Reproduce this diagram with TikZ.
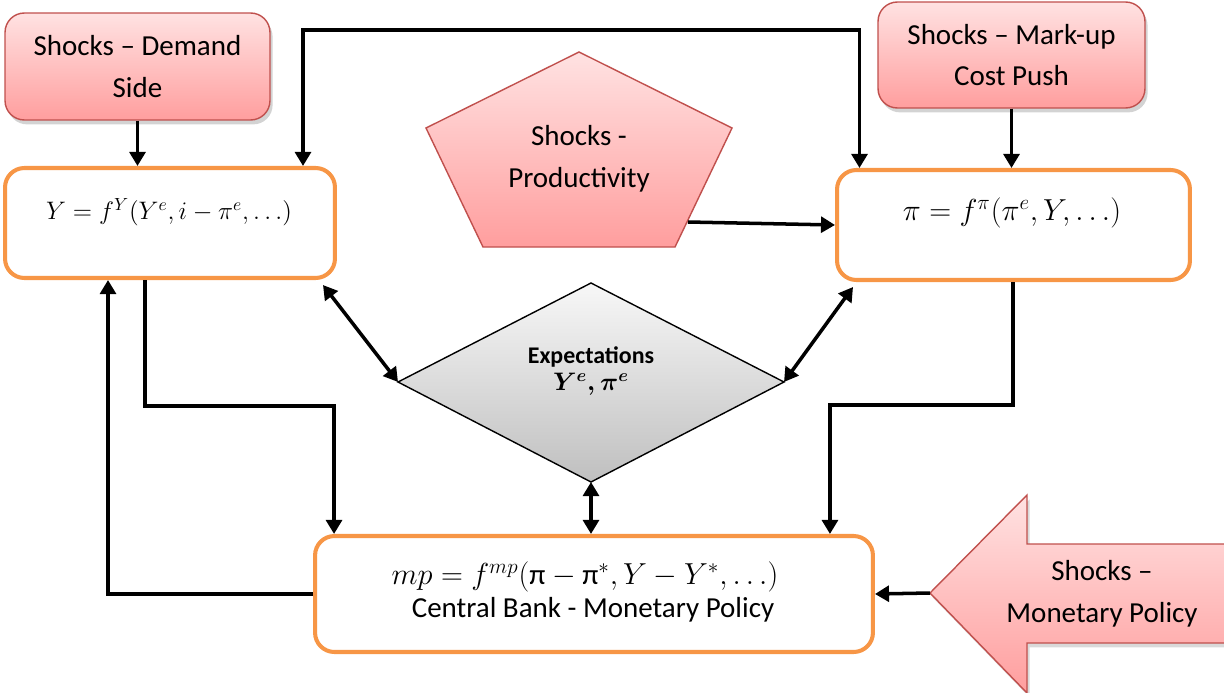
\documentclass[tikz,border=0pt]{standalone}
\usepackage{fontspec}
\setmainfont{Carlito}
\usepackage{amsmath}
\usetikzlibrary{arrows.meta,shadows,calc}
\definecolor{shockborder}{HTML}{C0504D}
\definecolor{shocktop}{HTML}{FFE2E2}
\definecolor{shockbot}{HTML}{FF9E9E}
\definecolor{orangeb}{HTML}{F79646}
\tikzset{
  shockfill/.style={draw=shockborder, line width=0.8pt, top color=shocktop, bottom color=shockbot},
  shockbox/.style={shockfill, rounded corners=11pt, align=center,
    drop shadow={shadow xshift=1.5pt, shadow yshift=-2.5pt, opacity=0.35, fill=black!50},
    font=\fontsize{16.5}{23.8}\selectfont},
  shocktext/.style={align=center, font=\fontsize{16.5}{23.8}\selectfont},
  eqbox/.style={draw=orangeb, line width=2.3pt, rounded corners=11pt, fill=white},
  conn/.style={line width=2pt, -{Triangle[length=8pt,width=9pt]}},
  dconn/.style={line width=2pt, {Triangle[length=8pt,width=9pt]}-{Triangle[length=8pt,width=9pt]}},
}
\begin{document}
\begin{tikzpicture}[x=0.02cm,y=-0.02cm]
\useasboundingbox (0,0) rectangle (1224,693);

% shock boxes
\node[shockbox, minimum width=5.3cm, minimum height=2.14cm] (dem) at (137.5,66.5)
  {Shocks -- Demand\\Side};
\node[shockbox, minimum width=5.34cm, minimum height=2.12cm] (mark) at (1011.5,55)
  {Shocks -- Mark-up\\Cost Push};

% pentagon
\coordinate (ptop) at (579,52);
\coordinate (pright) at (732,128);
\coordinate (pbr) at (675,247);
\coordinate (pbl) at (483,247);
\coordinate (pleft) at (426,128);
\coordinate (pstart) at (688,222);
\path[shockfill] (ptop) -- (pright) -- (pbr) -- (pbl) -- (pleft) -- cycle;
\node[shocktext] (prod) at (579,159) {Shocks -\\Productivity};

% equation boxes
\node[eqbox, minimum width=6.6cm, minimum height=2.2cm] (ybox) at (170,223) {};
\node[font=\fontsize{14.2}{17}\selectfont] (ytext) at (169,212)
  {$Y = f^{Y}(Y^{e}, i - \pi^{e}, \ldots)$};
\node[eqbox, minimum width=7.06cm, minimum height=2.2cm] (pibox) at (1013.5,225) {};
\node[font=\fontsize{17.4}{20}\selectfont] (pitext) at (1012,213)
  {$\pi = f^{\pi}(\pi^{e}, Y, \ldots)$};
\node[eqbox, minimum width=11.16cm, minimum height=2.32cm] (mpbox) at (594,594) {};
\node[font=\fontsize{16.5}{20}\selectfont] (mptext) at (585,577)
  {$mp = f^{mp}(\text{π} - \text{π}^{*}, Y - Y^{*}, \ldots)$};
\node[font=\fontsize{16.5}{20}\selectfont] (cbtext) at (593,610)
  {Central Bank - Monetary Policy};

% diamond
\coordinate (dtop) at (591,283);
\coordinate (dright) at (784,382);
\coordinate (dbot) at (591,482);
\coordinate (dleft) at (398,382);
\path[draw=black, line width=0.8pt, top color=gray!6, bottom color=gray!50]
  (dtop) -- (dright) -- (dbot) -- (dleft) -- cycle;
\node[align=center, font=\fontsize{13.6}{15.5}\selectfont\bfseries] (expt) at (591,371)
  {Expectations\\{\boldmath$Y^{e},\pi^{e}$}};

% monetary policy arrow shape
\coordinate (mtip) at (930,593);
\path[shockfill, drop shadow={shadow xshift=1.5pt, shadow yshift=-2.5pt, opacity=0.3, fill=black!50}]
  (mtip) -- (1027,495) -- (1027,544) -- (1232,544) -- (1232,643) -- (1027,643) -- (1027,693) -- cycle;
\node[shocktext] (mshock) at (1102,594) {Shocks --\\Monetary Policy};

% connectors
\draw[conn] (dem.south) -- (dem.south |- ybox.north);
\draw[conn] (mark.south) -- (mark.south |- pibox.north);
\draw[dconn] ($(ybox.north)+(133,0)$) |- (580,30) -| ($(pibox.north)+(-154,0)$);
\draw[conn] (pstart) -- (pibox.west);
\draw[dconn] ($(ybox.south east)+(-14,5)$) -- (dleft);
\draw[dconn] ($(pibox.south west)+(18,5)$) -- (dright);
\draw[dconn] (dbot) -- (dbot |- mpbox.north);
\draw[conn] ($(ybox.south west)+(142,0)$) |- ($(mpbox.north west)+(21,-128)$) -- ($(mpbox.north west)+(21,0)$);
\draw[conn] ($(pibox.south west)+(178,0)$) |- ($(mpbox.north east)+(-45,-129)$) -- ($(mpbox.north east)+(-45,0)$);
\draw[conn] (mpbox.west) -| ($(ybox.south west)+(105,0)$);
\draw[conn] (mtip) -- (mpbox.east);
\end{tikzpicture}
\end{document}
